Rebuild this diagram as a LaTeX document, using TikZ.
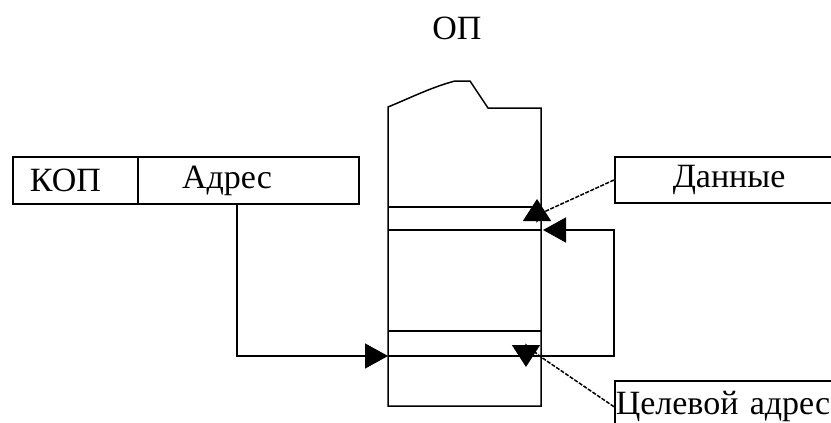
\documentclass[tikz,border=0pt]{standalone}
\usepackage{fontspec}
\setmainfont{Liberation Serif}
\usetikzlibrary{arrows.meta,positioning,calc}

\begin{document}
\begin{tikzpicture}[x=1pt,y=-1pt,
  font=\fontsize{34}{40}\selectfont,
  line width=1.5pt,
  cell/.style={draw,rectangle,minimum height=47pt,align=left,inner ysep=0pt},
  conn/.style={-{Triangle[length=23pt,width=25pt]}},
  callout/.style={dash pattern=on 4pt off 1.5pt,line width=1.5pt,
                  -{Triangle[length=22pt,width=28pt]}}]
\clip (0,0) rectangle (831,423);
% instruction word
\node[cell,text width=91pt,inner xsep=17pt] (kop) at (75.5,180.5) {КОП};
\node[cell,text width=133pt,inner xsep=44pt] (adr) at (248.5,180.5) {Адрес};
% memory
\node (op) at (457,28) {ОП};
\draw (388,406) -- (388,107) .. controls (410,98) and (432,87) .. (455,81)
  -- (470,81) -- (488,108) -- (541,108) -- (541,406) -- cycle;
\draw (388,207) -- (541,207) (388,230) -- (541,230) (388,331) -- (541,331);
\coordinate (slotin) at (388,356);
\coordinate (bend) at (614,356);
\coordinate (datin) at (543,230);
% callouts
\node[cell,anchor=west,text width=184pt,inner xsep=58pt,minimum height=46pt] (dan) at (614,180) {Данные};
\node[cell,anchor=north west,text width=298pt,inner xsep=1pt,minimum height=52pt] (tgt) at (614,380) {Целевой адрес};
\coordinate (datknee) at (546,211);
\coordinate (dattip) at (537,199);
\coordinate (tgtknee) at (541,357);
\coordinate (tgttip) at (526,367);
\draw[conn] ([xshift=-11.5pt]adr.south) |- (slotin);
\draw[conn] (slotin) -- (bend) |- (datin);
\draw[callout] (dan.west) -- (datknee) -- ($(dattip)+(0,22)$) -- (dattip);
\draw[callout] (tgt.west) -- (tgtknee) -- ($(tgttip)+(0,-22)$) -- (tgttip);
\end{tikzpicture}
\end{document}
